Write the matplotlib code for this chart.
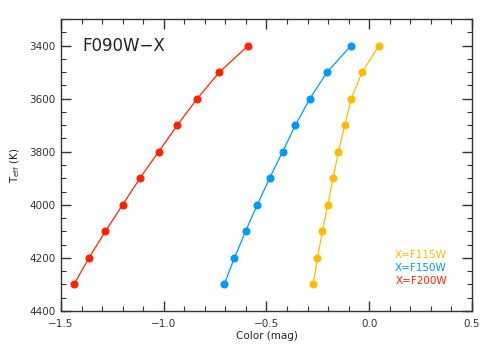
import matplotlib
matplotlib.use('Agg')
import matplotlib.pyplot as plt
from matplotlib.ticker import MultipleLocator

# effective temperature grid (K)
teff = [3400, 3500, 3600, 3700, 3800, 3900, 4000, 4100, 4200, 4300]

# F090W - X colours (mag)
col_f115w = [0.048, -0.035, -0.087, -0.119, -0.150, -0.176, -0.202, -0.228, -0.252, -0.273]
col_f150w = [-0.088, -0.205, -0.289, -0.359, -0.422, -0.485, -0.545, -0.602, -0.656, -0.706]
col_f200w = [-0.589, -0.729, -0.837, -0.934, -1.025, -1.116, -1.200, -1.284, -1.364, -1.437]

labels = ['X=F115W', 'X=F150W', 'X=F200W']
colors = ['#ffbb00', '#0099ff', '#ff2200']

plt.rcParams['font.family'] = 'DejaVu Sans'

fig = plt.figure(figsize=(4.91, 3.5), dpi=100)
ax = fig.add_axes([61/491, 1 - 311/350, 411/491, 292/350])

for xs, c in zip([col_f115w, col_f150w, col_f200w], colors):
    ax.plot(xs, teff, '-o', color=c, lw=0.9, ms=4.8, mec=c, mfc=c)

ax.set_xlim(-1.5, 0.5)
ax.set_ylim(4400, 3300)

ax.xaxis.set_major_locator(MultipleLocator(0.5))
ax.xaxis.set_minor_locator(MultipleLocator(0.1))
ax.yaxis.set_major_locator(MultipleLocator(200))
ax.yaxis.set_minor_locator(MultipleLocator(50))
ax.xaxis.set_major_formatter(plt.FuncFormatter(lambda v, p: f'{v:.1f}'.replace('-', '\u2212')))

ax.tick_params(which='both', direction='in', top=True, right=True, labelsize=7.5, colors='#333333')
ax.tick_params(which='major', length=7, width=1)
ax.tick_params(which='minor', length=3.5, width=0.8)
ax.tick_params(axis='x', pad=6)
ax.tick_params(axis='y', pad=4)
for s in ax.spines.values():
    s.set_linewidth(1)
    s.set_color('#333333')

ax.set_xlabel('Color (mag)', fontsize=7.5, labelpad=1, color='#222222')
ax.set_ylabel(r'T$_{\rm eff}$ (K)', fontsize=7.5, labelpad=5, color='#222222')

ax.text(0.051, 0.908, 'F090W\u2212X', transform=ax.transAxes, fontsize=12,
        va='center', ha='left', color='#222222')

for i, (lab, c) in enumerate(zip(labels, colors)):
    ax.text(0.939, 0.192 - i*0.045, lab, transform=ax.transAxes, fontsize=7.5,
            color=c, ha='right', va='center')

fig.savefig('out.png', dpi=100)
